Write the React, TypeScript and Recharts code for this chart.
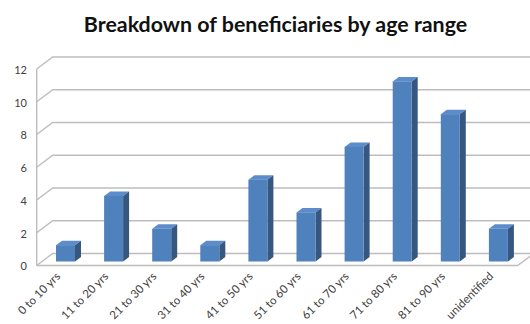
import * as Recharts from 'recharts';
import { Bar, BarChart, CartesianGrid, XAxis, YAxis } from 'recharts';

const ageRanges = [
  '0 to 10 yrs',
  '11 to 20 yrs',
  '21 to 30 yrs',
  '31 to 40 yrs',
  '41 to 50 yrs',
  '51 to 60 yrs',
  '61 to 70 yrs',
  '71 to 80 yrs',
  '81 to 90 yrs',
  'unidentified',
];
const beneficiaries = [1, 4, 2, 1, 5, 3, 7, 11, 9, 2];
const yTicks = [0, 2, 4, 6, 8, 10, 12];

const data = ageRanges.map((range, i) => ({ range, count: beneficiaries[i] }));

// depth offsets of the fake 3D box, relative to the plane the bars stand in
const BACK = { dx: 10.7, dy: -8 };
const FRONT = { dx: -5.3, dy: 4 };
const gridColor = '#bdbdbd';
const textColor = '#404040';
const font = 'Lato, "Liberation Sans", sans-serif';

const usePlot: any = (Recharts as any).usePlotArea || (Recharts as any).useOffset || (() => null);

function Column(props: any) {
  const { x, y, width, height } = props;
  if (!height || height <= 0) return null;
  const fx = x - 1;
  const d = 6;
  const dy = 4.5;
  return (
    <g>
      <polygon
        points={`${fx},${y} ${fx + d},${y - dy} ${fx + width + d},${y - dy} ${fx + width},${y}`}
        fill="#5d8ccb"
      />
      <polygon
        points={`${fx + width},${y} ${fx + width + d},${y - dy} ${fx + width + d},${y + height - dy} ${fx + width},${y + height}`}
        fill="#36577f"
      />
      <rect x={fx} y={y} width={width} height={height} fill="#4f81bd" />
    </g>
  );
}

function GridLine(props: any) {
  const { x1, x2, y1 } = props;
  const isFloor = props.index === 0;
  return (
    <g stroke={gridColor} strokeWidth={1.4} fill="none">
      <polyline
        points={`${x1 + FRONT.dx},${y1 + FRONT.dy} ${x1 + BACK.dx},${y1 + BACK.dy} ${x2 + BACK.dx},${y1 + BACK.dy}`}
      />
      {isFloor && (
        <polyline
          points={`${x1 + FRONT.dx},${y1 + FRONT.dy} ${x2 + FRONT.dx},${y1 + FRONT.dy} ${x2 + BACK.dx},${y1 + BACK.dy}`}
        />
      )}
    </g>
  );
}

function YTick(props: any) {
  const { y, payload } = props;
  return (
    <text
      x={27}
      y={y + FRONT.dy + 2}
      textAnchor="end"
      dominantBaseline="middle"
      fontSize={11}
      fontFamily={font}
      fill={textColor}
    >
      {payload.value}
    </text>
  );
}

function XTick(props: any) {
  const { x, payload } = props;
  const ex = x - 5;
  const ey = 277;
  return (
    <text
      x={ex}
      y={ey}
      textAnchor="end"
      transform={`rotate(-45 ${ex} ${ey})`}
      fontSize={11.5}
      fontFamily={font}
      fill={textColor}
    >
      {payload.value}
    </text>
  );
}

function LeftWall() {
  const area = usePlot();
  if (!area) return null;
  const left = area.x ?? area.left;
  const top = area.y ?? area.top;
  const x = left + FRONT.dx;
  return (
    <line
      x1={x}
      x2={x}
      y1={top + FRONT.dy}
      y2={top + area.height + FRONT.dy}
      stroke={gridColor}
      strokeWidth={1.4}
    />
  );
}

export default function App() {
  return (
    <div style={{ position: 'absolute', left: 0, top: 0, width: 530, height: 324, background: '#fff' }}>
      <div
        style={{
          position: 'absolute',
          left: 0,
          top: 11,
          width: 551,
          textAlign: 'center',
          fontFamily: font,
          fontWeight: 700,
          fontSize: 21.4,
          color: '#111',
          whiteSpace: 'nowrap',
        }}
      >
        Breakdown of beneficiaries by age range
      </div>
      <BarChart
        width={530}
        height={324}
        data={data}
        margin={{ top: 65, right: 7, bottom: 32.5, left: 0 }}
        barSize={19}
      >
        <CartesianGrid vertical={false} horizontal={(p: any) => <GridLine {...p} />} stroke={gridColor} />
        <XAxis
          dataKey="range"
          height={30}
          axisLine={false}
          tickLine={false}
          interval={0}
          tick={(p: any) => <XTick {...p} />}
        />
        <YAxis
          width={42}
          domain={[0, 12]}
          ticks={yTicks}
          axisLine={false}
          tickLine={false}
          tick={(p: any) => <YTick {...p} />}
        />
        <LeftWall />
        <Bar dataKey="count" fill="#4f81bd" shape={(p: any) => <Column {...p} />} isAnimationActive={false} />
      </BarChart>
    </div>
  );
}
